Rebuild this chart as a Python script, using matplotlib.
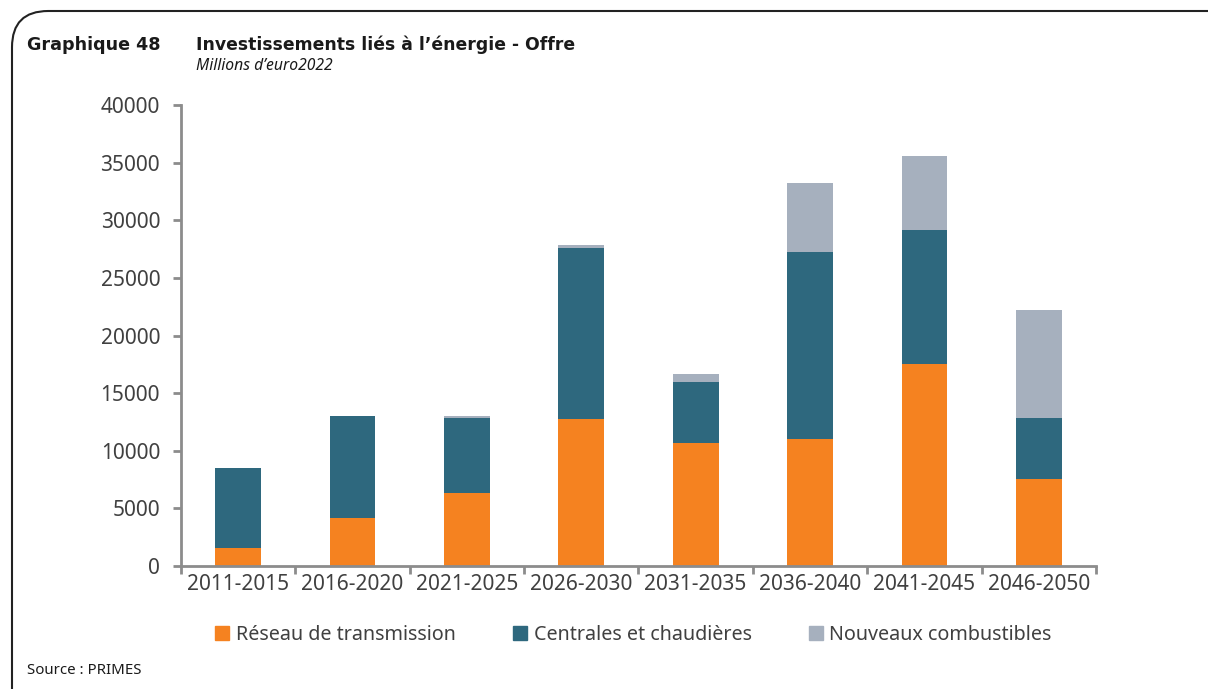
import matplotlib.pyplot as plt
import numpy as np
from matplotlib.patches import Patch, FancyBboxPatch

plt.rcParams['font.family'] = ['Noto Sans', 'DejaVu Sans']

periods = ['2011-2015', '2016-2020', '2021-2025', '2026-2030',
           '2031-2035', '2036-2040', '2041-2045', '2046-2050']
reseau = [1600, 4150, 6300, 12800, 10650, 11000, 17550, 7550]
centrales = [6900, 8850, 6550, 14800, 5350, 16250, 11600, 5300]
combustibles = [0, 0, 150, 300, 650, 6000, 6450, 9400]

c_res = '#F58220'
c_cen = '#2E687E'
c_com = '#A6B0BE'
txt = '#404040'

fig = plt.figure(figsize=(12.08, 6.89), dpi=100)
ax = fig.add_axes([0.1498, 0.1785, 0.7575, 0.669])

x = np.arange(len(periods))
w = 0.4
reseau = np.array(reseau)
centrales = np.array(centrales)
combustibles = np.array(combustibles)
ax.bar(x, reseau, w, color=c_res, label='Réseau de transmission')
ax.bar(x, centrales, w, bottom=reseau, color=c_cen, label='Centrales et chaudières')
ax.bar(x, combustibles, w, bottom=reseau + centrales, color=c_com, label='Nouveaux combustibles')

ax.set_xlim(-0.5, len(periods) - 0.5)
ax.set_ylim(0, 40000)
ax.set_yticks(range(0, 40001, 5000))
ax.set_xticks(x)
ax.set_xticklabels(periods)
ax.set_xticks(np.arange(-0.5, len(periods)), minor=True)
ax.tick_params(axis='x', which='major', length=0, pad=6, labelsize=15, labelcolor=txt)
ax.tick_params(axis='x', which='minor', length=6, width=2, color='#8C8C8C')
ax.tick_params(axis='y', length=6, width=2, color='#8C8C8C', pad=9, labelsize=15, labelcolor=txt)
for s in ['top', 'right']:
    ax.spines[s].set_visible(False)
for s in ['left', 'bottom']:
    ax.spines[s].set_color('#8C8C8C')
    ax.spines[s].set_linewidth(2)

handles = [Patch(color=c_res), Patch(color=c_cen), Patch(color=c_com)]
labels = ['Réseau de transmission', 'Centrales et chaudières', 'Nouveaux combustibles']
leg = fig.legend(handles, labels, loc='center', bbox_to_anchor=(0.5244, 0.079), ncol=3,
                 frameon=False, fontsize=14.2, handlelength=0.7, handleheight=0.7,
                 handletextpad=0.35, columnspacing=2.9)
for t in leg.get_texts():
    t.set_color(txt)

# titles and source
bold = ['DejaVu Sans']
fig.text(27 / 1208, 1 - 45 / 689, 'Graphique 48', fontsize=12.6, fontweight='bold',
         family=bold, color='#1a1a1a', va='center')
fig.text(196 / 1208, 1 - 45 / 689, 'Investissements liés à l\u2019énergie - Offre', fontsize=12.4,
         fontweight='bold', family=bold, color='#1a1a1a', va='center')
fig.text(196 / 1208, 1 - 66 / 689, 'Millions d\u2019euro2022', fontsize=11.3, style='italic',
         color='#1a1a1a', va='center')
fig.text(27 / 1208, 1 - 671 / 689, 'Source : PRIMES', fontsize=10.8, color='#1a1a1a', va='center')

# outer frame, running off the right and bottom edges
frame = FancyBboxPatch((12 / 1208, -0.2), 1.2, 1.2 - 11 / 689,
                       boxstyle='round,pad=0,rounding_size=0.03',
                       transform=fig.transFigure, fill=False, ec='#222222', lw=1.5,
                       mutation_aspect=1208 / 689)
fig.patches.append(frame)

fig.savefig('out.png', dpi=100)
